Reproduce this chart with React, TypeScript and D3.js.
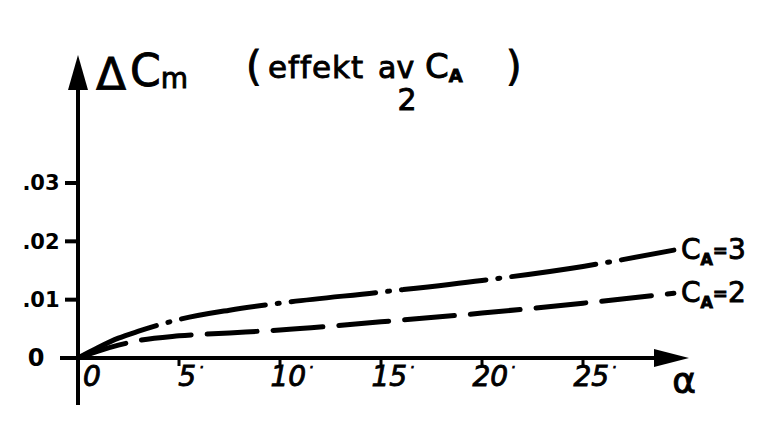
import React from "react";
import * as d3 from "d3";

const alpha = [0, 1, 2, 3, 5, 7.5, 10, 15, 20, 25, 29.5];
const ca3 = [0, 0.0018, 0.0034, 0.0046, 0.0066, 0.0082, 0.0094, 0.0113, 0.0133, 0.0157, 0.0185];
const ca2 = [0, 0.0012, 0.0022, 0.003, 0.0038, 0.0043, 0.0048, 0.0062, 0.0077, 0.0094, 0.0111];
const xTicks = [0, 5, 10, 15, 20, 25];
const yTicks = [0, 0.01, 0.02, 0.03];
const yTickLabels = ["0", ".01", ".02", ".03"];
const seriesValues = ["3", "2"];

const W = 773, H = 423;
const FONT = "'DejaVu Sans', sans-serif";
const ink = { fill: "#000", stroke: "#000", strokeWidth: 0.9 };

export default function App() {
  const x = d3.scaleLinear().domain([0, 30]).range([78, 684]);
  const y = d3.scaleLinear().domain([0, 0.03]).range([358, 183]);
  const line = d3.line<number>().x((_, i) => x(alpha[i])).y((d) => y(d)).curve(d3.curveMonotoneX);
  const x0 = x(0), y0 = y(0);
  const series = [
    { v: ca3, dash: "85 12 2 12" },
    { v: ca2, dash: "50 16" },
  ];
  return (
    <svg width={W} height={H} style={{ position: "absolute", left: 0, top: 0, background: "#fff" }}>
      <rect width={W} height={H} fill="#fff" />
      {/* axes */}
      <line x1={x0} y1={405} x2={x0} y2={80} stroke="#000" strokeWidth={4} />
      <path d={`M${x0},55 L${x0 - 10},90 L${x0 + 10},90 Z`} fill="#000" />
      <line x1={60} y1={y0} x2={660} y2={y0} stroke="#000" strokeWidth={4} />
      <path d={`M${x(30) + 5},${y0} L${x(30) - 30},${y0 - 9} L${x(30) - 30},${y0 + 9} Z`} fill="#000" />
      {/* y ticks */}
      {yTicks.map((t, i) => (
        <g key={t}>
          {i > 0 && <line x1={x0 - 13} y1={y(t)} x2={x0} y2={y(t)} stroke="#000" strokeWidth={4} />}
          <text x={i === 0 ? 36 : 41} y={y(t)} dy="0.35em" textAnchor="middle" fontFamily={FONT} fontWeight="bold" fontSize={i === 0 ? 24 : 21}>
            {yTickLabels[i]}
          </text>
        </g>
      ))}
      {/* x ticks */}
      {xTicks.map((t) => (
        <g key={t}>
          {t > 0 && <line x1={x(t)} y1={y0} x2={x(t)} y2={y0 + 8} stroke="#000" strokeWidth={3} />}
          <text x={x(t) + (t === 0 ? 14 : 12)} y={y0 + 28} textAnchor="middle" fontFamily={FONT} fontSize={28} fontStyle="italic" {...ink}>
            {t}
            {t > 0 && <tspan fontSize={14} dx={3} dy={-14}>·</tspan>}
          </text>
        </g>
      ))}
      <text x={684} y={393} textAnchor="middle" fontFamily={FONT} fontSize={36} {...ink}>α</text>
      {/* curves */}
      {series.map((s, i) => (
        <path key={i} d={line(s.v) || ""} fill="none" stroke="#000" strokeWidth={5} strokeDasharray={s.dash} strokeLinecap="round" />
      ))}
      {/* series labels */}
      {[ca3, ca2].map((v, i) => (
        <text key={i} x={x(alpha[alpha.length - 1]) + 7} y={y(v[v.length - 1]) + 9} fontFamily={FONT} fontSize={28} {...ink}>
          C<tspan fontSize={16} fontWeight="bold" dy={6}>A</tspan>
          <tspan dy={-8} fontSize={18} fontWeight="bold">=</tspan>
          <tspan dy={2}>{seriesValues[i]}</tspan>
        </text>
      ))}
      {/* title */}
      <text x={96} y={90} fontFamily={FONT} fontSize={44} {...ink}>Δ</text>
      <text x={130} y={86} fontFamily={FONT} fontSize={44} {...ink}>
        C<tspan fontSize={28} dy={2}>m</tspan>
      </text>
      <text x={246} y={80} fontFamily={FONT} fontSize={40} {...ink}>(</text>
      <text x={268} y={78} fontFamily={FONT} fontSize={31} letterSpacing={1} {...ink}>effekt</text>
      <text x={378} y={78} fontFamily={FONT} fontSize={30} {...ink}>av</text>
      <text x={425} y={78} fontFamily={FONT} fontSize={34} {...ink}>
        C<tspan fontSize={18} fontWeight="bold" dy={4}>A</tspan>
      </text>
      <text x={506} y={80} fontFamily={FONT} fontSize={40} {...ink}>)</text>
      <text x={407} y={110} textAnchor="middle" fontFamily={FONT} fontSize={30} {...ink}>2</text>
    </svg>
  );
}
